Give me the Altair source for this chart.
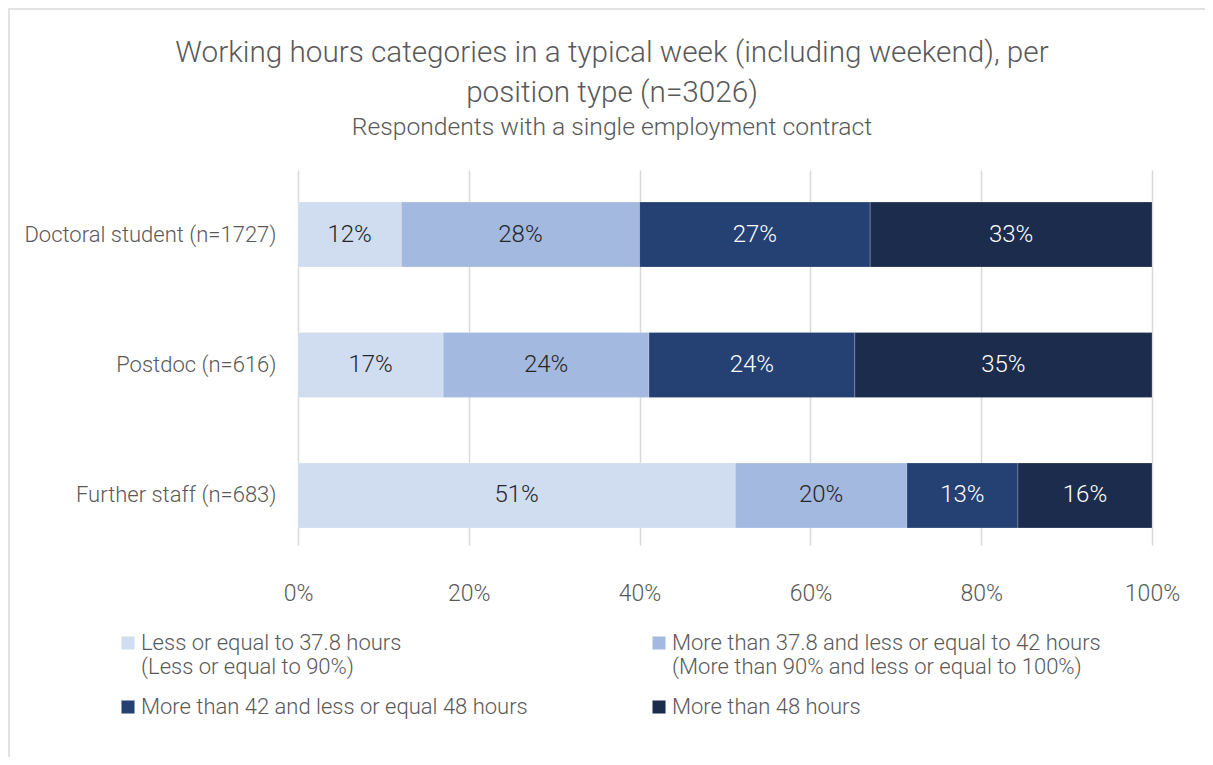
import altair as alt
import pandas as pd

positions = ["Doctoral student (n=1727)", "Postdoc (n=616)", "Further staff (n=683)"]
categories = [
    "Less or equal to 37.8 hours|(Less or equal to 90%)",
    "More than 37.8 and less or equal to 42 hours|(More than 90% and less or equal to 100%)",
    "More than 42 and less or equal 48 hours",
    "More than 48 hours",
]
doctoral = [12.1, 27.9, 27.0, 33.0]
postdoc = [17.0, 24.1, 24.1, 34.8]
further = [51.2, 20.1, 13.0, 15.7]
colors = ["#D0DCEF", "#A3B9E0", "#254073", "#1B2C4D"]
text_colors = ["#262626", "#262626", "#FFFFFF", "#FFFFFF"]
x_ticks = [0, 20, 40, 60, 80, 100]

rows = []
for pos, vals in zip(positions, [doctoral, postdoc, further]):
    for i, (cat, v) in enumerate(zip(categories, vals)):
        rows.append({"position": pos, "category": cat, "order": i, "value": v})
df = pd.DataFrame(rows)

FONT = "Roboto"
W = 300
GREY = "#595959"

base = alt.Chart(df).transform_stack(
    stack="value", as_=["x0", "x1"], groupby=["position"], sort=[alt.SortField("order")]
).transform_calculate(
    mid="(datum.x0 + datum.x1) / 2",
    label="format(datum.value, '.0f') + '%'",
)

y_enc = alt.Y(
    "position:N",
    sort=positions,
    title=None,
    scale=alt.Scale(paddingInner=0.502, paddingOuter=0.188, align=0.653),
    axis=alt.Axis(domain=False, ticks=False, labelPadding=22, labelFontSize=22,
                  labelColor=GREY, labelFont=FONT, labelFontWeight=W, labelLimit=400),
)

bars = base.mark_bar(stroke="#FFFFFF", strokeWidth=0.6, strokeOpacity=0.35).encode(
    x=alt.X("x0:Q", scale=alt.Scale(domain=[0, 100], nice=False), title=None,
            axis=alt.Axis(values=x_ticks, domain=False, ticks=False, grid=True,
                          gridColor="#D9D9D9", gridWidth=1.5, labelPadding=37,
                          labelFlush=False,
                          labelFontSize=23, labelColor=GREY, labelFont=FONT,
                          labelFontWeight=W, labelExpr="datum.value + '%'")),
    x2="x1:Q",
    y=y_enc,
    color=alt.Color(
        "category:N",
        scale=alt.Scale(domain=categories, range=colors),
        legend=alt.Legend(
            title=None, orient="none", legendX=-181, legendY=462, columns=2,
            direction="horizontal",
            symbolType="square", symbolSize=170, symbolStrokeWidth=0,
            labelExpr="split(datum.label, '|')", labelFontSize=22, labelColor=GREY,
            labelFont=FONT, labelFontWeight=W, labelLimit=600, columnPadding=120,
            rowPadding=18, labelOffset=2,
        ),
    ),
    order=alt.Order("order:Q"),
)

texts = base.mark_text(fontSize=24, font=FONT, fontWeight=W).encode(
    x="mid:Q",
    y=alt.Y("position:N", sort=positions),
    text="label:N",
    color=alt.Color("order:O", scale=alt.Scale(domain=[0, 1, 2, 3], range=text_colors), legend=None),
)

border = alt.Chart(pd.DataFrame({"a": [0]})).mark_rect(
    fill=None, stroke="#D9D9D9", strokeWidth=1.5, clip=False
).encode(x=alt.value(-289), x2=alt.value(2000), y=alt.value(-161), y2=alt.value(2000))

chart = alt.layer(border, bars, texts).resolve_scale(color="independent").properties(
    width=854,
    height=375,
    padding={"left": 290, "top": 162, "right": 53, "bottom": 212},
    autosize=alt.AutoSizeParams(type="none"),
    title=alt.TitleParams(
        text=["Working hours categories in a typical week (including weekend), per",
              "position type (n=3026)"],
        subtitle="Respondents with a single employment contract",
        anchor="middle", frame="group", dx=-113, dy=132, offset=0,
        fontSize=29.7, font=FONT, fontWeight=W, color=GREY, lineHeight=40,
        subtitleFontSize=24.7, subtitleFont=FONT, subtitleFontWeight=W,
        subtitleColor=GREY, subtitlePadding=6,
    ),
).configure_view(stroke=None)

chart.save("out.html", embed_options={"renderer": "svg", "actions": False})
